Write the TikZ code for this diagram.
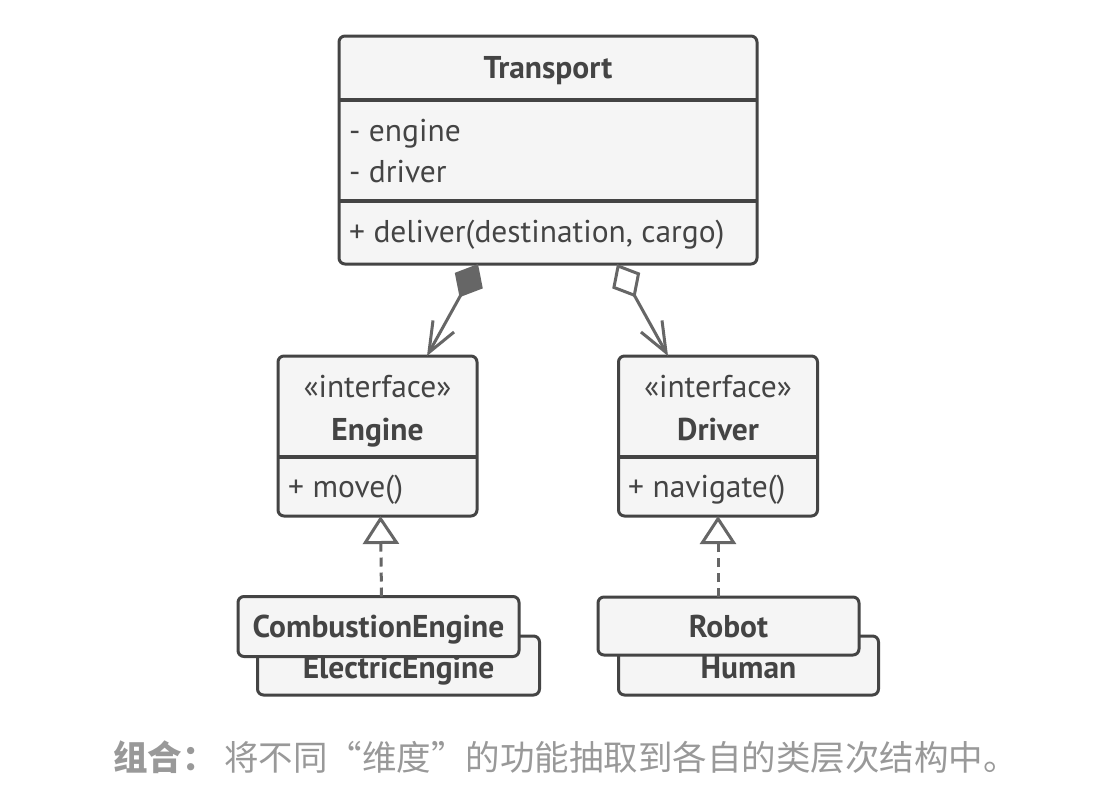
\documentclass[tikz,border=0pt]{standalone}
\usepackage{fontspec}
\setmainfont{PT Sans}
\newfontfamily\cjk{Noto Sans CJK SC}
\usetikzlibrary{arrows.meta,calc}
\definecolor{boxline}{HTML}{444444}
\definecolor{boxfill}{HTML}{F5F5F5}
\definecolor{txt}{HTML}{444444}
\definecolor{arr}{HTML}{666666}
\definecolor{cap}{HTML}{999999}
\tikzset{
  box/.style={draw=boxline, line width=3pt, fill=boxfill, rounded corners=6pt, inner sep=0pt, outer sep=0pt},
  sepline/.style={draw=boxline, line width=3.5pt},
  lbl/.style={text=txt, font=\fontsize{31.5}{36}\selectfont, inner sep=0pt},
  ttl/.style={lbl, font=\fontsize{31.5}{36}\selectfont\bfseries},
  conn/.style={draw=arr, line width=3pt},
  gen/.style={conn, dash pattern=on 9pt off 6pt, -{Triangle[open, length=28pt, width=36pt, fill=white]}},
}
\begin{document}
\begin{tikzpicture}[x=1pt,y=-1pt]
\useasboundingbox[fill=white] (0,0) rectangle (1098,796);

% Transport
\node[box, minimum width=418pt, minimum height=228pt] (transport) at (548,150) {};
\draw[sepline] ($(transport.west)+(0,-50)$) -- ($(transport.east)+(0,-50)$);
\draw[sepline] ($(transport.west)+(0,51)$) -- ($(transport.east)+(0,51)$);
\node[ttl, anchor=base] (ttitle) at (548,78) {Transport};
\node[lbl, anchor=base west] (tengine) at (349,141) {- engine};
\node[lbl, anchor=base west] (tdriver) at (349,182) {- driver};
\node[lbl, anchor=base west] (tdeliver) at (349,242) {+ deliver(destination, cargo)};

% Engine
\node[box, minimum width=199pt, minimum height=160pt] (engine) at (377.5,436) {};
\draw[sepline] (engine.west |- 0,457) -- (engine.east |- 0,457);
\node[lbl, anchor=base] (eint) at (377.5,397) {«interface»};
\node[ttl, anchor=base] (ename) at (377.5,440) {Engine};
\node[lbl, anchor=base west] (emove) at (288,497) {+ move()};

% Driver
\node[box, minimum width=199pt, minimum height=160pt] (driver) at (718,436) {};
\draw[sepline] (driver.west |- 0,457) -- (driver.east |- 0,457);
\node[lbl, anchor=base] (dint) at (718,397) {«interface»};
\node[ttl, anchor=base] (dname) at (718,440) {Driver};
\node[lbl, anchor=base west] (dnav) at (628,497) {+ navigate()};

% Implementations
\node[box, minimum width=282pt, minimum height=59pt] (electric) at (398.5,665.5) {};
\node[ttl, anchor=base] (electrict) at (398.5,678) {ElectricEngine};
\node[box, minimum width=281pt, minimum height=60pt] (combustion) at (378.5,626.5) {};
\node[ttl, anchor=base] (combustiont) at (378.5,637) {CombustionEngine};

\node[box, minimum width=260pt, minimum height=59pt] (human) at (748.5,665.5) {};
\node[ttl, anchor=base] (humant) at (748.5,678) {Human};
\node[box, minimum width=261pt, minimum height=58pt] (robot) at (728.5,626) {};
\node[ttl, anchor=base] (robott) at (728.5,637) {Robot};

% Connectors
\draw[conn, {Diamond[length=38pt, width=32pt, fill=arr]}-{Straight Barb[length=30pt, width=24pt]}]
  ($(transport.south)+(-70,0)$) -- ($(engine.north)+(49.5,0)$);
\draw[conn, {Diamond[open, length=38pt, width=32pt, fill=white]}-{Straight Barb[length=30pt, width=24pt]}]
  ($(transport.south)+(69,0)$) -- ($(driver.north)+(-50,0)$);
\draw[gen] ($(combustion.north)+(3,0)$) -- ($(engine.south)+(3,0)$);
\draw[gen] (robot.north -| driver.south) -- (driver.south);

% Caption
\node[anchor=west, inner sep=0pt, text=cap, font=\fontsize{34.5}{40}\selectfont\cjk] (caption) at (113,757)
  {{\bfseries 组合：} 将不同“维度”的功能抽取到各自的类层次结构中。};
\end{tikzpicture}
\end{document}
